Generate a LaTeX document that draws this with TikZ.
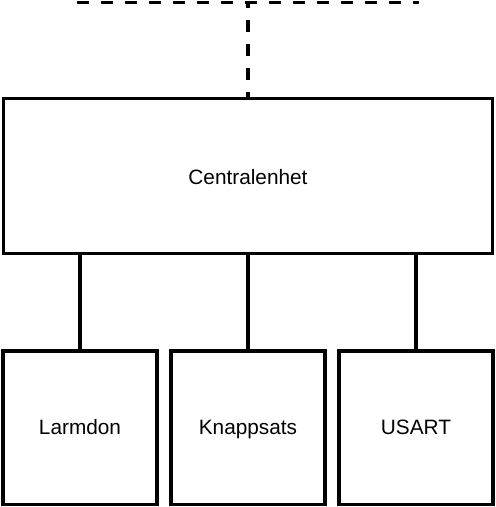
\documentclass[tikz,border=0pt]{standalone}
\usepackage{fontspec}
\setmainfont{Liberation Sans}

\begin{document}
\begin{tikzpicture}[x=1pt,y=-1pt,
    unit/.style={draw,line width=3.4pt,minimum width=154pt,minimum height=153.5pt,
      inner sep=0pt,text height=15pt,text depth=2pt,font=\fontsize{20.8}{25}\selectfont},
    bus/.style={line width=3.4pt,dash pattern=on 12pt off 12pt}]
  \useasboundingbox (0,0) rectangle (496,507);
  \draw
    (248,175.9) node[unit,minimum width=489pt,minimum height=155pt,
      text height=16.8pt,text depth=0pt] (central){Centralenhet}
    (80,427.8) node[unit] (larm){Larmdon}
    (248,427.8) node[unit] (knapp){Knappsats}
    (416,427.8) node[unit] (usart){USART};
  \coordinate (busL) at (77,2.5);
  \coordinate (busR) at (419,2.5);
  \coordinate (busmid) at (248,2.5);
  \begin{scope}[bus]
    \draw (busL) -- (busR);
    \draw[dash phase=6.5pt] (busmid) -- (central.north);
  \end{scope}
  \begin{scope}[line width=3.4pt]
    \draw (central.south -| larm.north) -- (larm.north);
    \draw (central.south) -- (knapp.north);
    \draw (central.south -| usart.north) -- (usart.north);
  \end{scope}
\end{tikzpicture}
\end{document}
